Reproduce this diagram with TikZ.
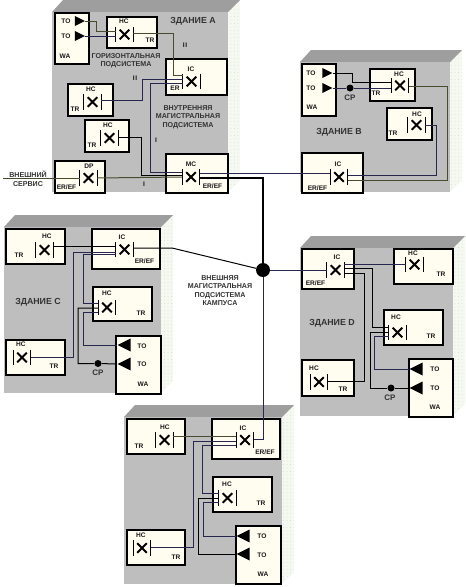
\documentclass[tikz,border=0pt]{standalone}
\usepackage{fontspec}
\setmainfont{Liberation Sans}
\usetikzlibrary{shapes.geometric,patterns.meta}
\definecolor{wallgray}{HTML}{BEBEBE}
\definecolor{roofgray}{HTML}{9E9E9E}
\definecolor{sidegreen}{HTML}{F6F9F2}
\definecolor{sidedots}{HTML}{BFD8B8}
\definecolor{boxcream}{HTML}{FFFCF0}
\definecolor{wirenavy}{HTML}{26264E}
\definecolor{wireolive}{HTML}{4A4A2E}
\tikzset{
  wall/.style={fill=wallgray},
  roof/.style={fill=roofgray},
  side/.style={fill=sidegreen,postaction={pattern={Dots[distance=3.5pt,radius=0.45pt]},pattern color=sidedots}},
  box/.style={draw=black,line width=1.9pt,fill=boxcream,inner sep=0,anchor=north west},
  lbl/.style={font=\bfseries\fontsize{6.6}{8}\selectfont,inner sep=0,text=black!90},
  title/.style={font=\bfseries\fontsize{8.8}{10}\selectfont,inner sep=0,text=black!80},
  cplbl/.style={font=\bfseries\fontsize{8}{9}\selectfont,inner sep=0,text=black!80},
  note/.style={font=\bfseries\fontsize{7.1}{8.4}\selectfont,inner sep=0,align=center,text=black!80},
  xbox/.style={minimum width=17pt,minimum height=15pt,inner sep=0},
  wire/.style={line width=1pt,black},
  wireN/.style={line width=1pt,wirenavy},
  wireO/.style={line width=1pt,wireolive},
  trunk/.style={line width=2.8pt,black},
  toR/.style={isosceles triangle,isosceles triangle stretches,shape border rotate=0,fill=black,inner sep=0,minimum height=10pt,minimum width=10pt},
  toL/.style={isosceles triangle,isosceles triangle stretches,shape border rotate=180,fill=black,inner sep=0,minimum height=13pt,minimum width=13pt},
  spot/.style={circle,fill=black,inner sep=0,minimum size=7pt},
}
% cross connect symbol
\newcommand{\xconn}[2]{%
  \node[xbox] (#1) at (#2) {};
  \draw[line width=1.3pt] (#1.north west) -- (#1.south west) (#1.north east) -- (#1.south east);
  \draw[line width=1.9pt] ([shift={(-4.8pt,-4.8pt)}]#1.center) -- ([shift={(4.8pt,4.8pt)}]#1.center)
    ([shift={(-4.8pt,4.8pt)}]#1.center) -- ([shift={(4.8pt,-4.8pt)}]#1.center);
}
% building block: front, roof and side
\newcommand{\building}[4]{%
  \fill[side] (#3,#2) -- (#3+12,#2-12) -- (#3+12,#4-12) -- (#3,#4) -- cycle;
  \fill[roof] (#1,#2) -- (#1+11,#2-12) -- (#3+12,#2-12) -- (#3,#2) -- cycle;
  \fill[wall] (#1,#2) rectangle (#3,#4);
}
\begin{document}
\begin{tikzpicture}[x=1pt,y=-1pt]
\useasboundingbox (0,0) rectangle (466,587);

% Building A
\building{52}{12}{228}{192}
\node[box,minimum width=34pt,minimum height=51pt] (waA) at (54,12) {};
\node[box,minimum width=50pt,minimum height=31pt] (boxA1) at (106,16) {};
\node[box,minimum width=61pt,minimum height=36pt] (boxA2) at (165,58) {};
\node[box,minimum width=45pt,minimum height=32pt] (boxA3) at (67,83) {};
\node[box,minimum width=44pt,minimum height=32pt] (boxA4) at (84,119) {};
\node[box,minimum width=50pt,minimum height=32pt] (boxA5) at (54,160) {};
\node[box,minimum width=62pt,minimum height=39pt] (boxA6) at (165,153) {};
\xconn{hcA1}{124.5,34.5}
\xconn{icA}{191.5,81.5}
\xconn{hcA2}{92.5,102}
\xconn{hcA3}{109.5,138}
\xconn{dpA}{88.5,178}
\xconn{mcA}{191,177}
\node[toR] (toA1) at (78,21) {};
\node[toR] (toA2) at (78,36) {};
\node[lbl] (tA1) at (66,21) {TO};
\node[lbl] (tA2) at (66,36.5) {TO};
\node[lbl] (tA3) at (65,56) {WA};
\node[lbl] (tA4) at (124,21) {HC};
\node[lbl] (tA5) at (150,40) {TR};
\node[lbl] (tA6) at (191,69) {IC};
\node[lbl] (tA7) at (175,88) {ER};
\node[lbl] (tA8) at (91,89) {HC};
\node[lbl] (tA9) at (75,109) {TR};
\node[lbl] (tA10) at (108,125) {HC};
\node[lbl] (tA11) at (92,145) {TR};
\node[lbl] (tA12) at (89,166) {DP};
\node[lbl] (tA13) at (66.5,187) {ER/EF};
\node[lbl] (tA14) at (191,164) {MC};
\node[lbl] (tA15) at (212.5,186) {ER/EF};
\node[lbl] (tA16) at (185,45) {I\kern0.8pt I};
\node[lbl] (tA17) at (135,78) {I\kern0.8pt I};
\node[lbl] (tA18) at (156,140) {I};
\node[lbl] (tA19) at (144,184) {I};
\node[title] (nameA) at (193,21) {ЗДАНИЕ А};
\node[note] (horizA) at (126,60.5) {ГОРИЗОНТАЛЬНАЯ\\ПОДСИСТЕМА};
\node[note] (backA) at (188,117) {ВНУТРЕННЯЯ\\МАГИСТРАЛЬНАЯ\\ПОДСИСТЕМА};
\node[note] (extA) at (28,179) {ВНЕШНИЙ\\СЕРВИС};
\coordinate (extIn) at (3,178);
\draw[wireO] (toA1.apex) -| (96,31) -- (hcA1.west |- 0,31);
\draw[wireN] (toA2.apex) -- (hcA1.west |- 0,36);
\draw[wireO] (hcA1.east |- 0,33) -| (173,75) -- (icA.west |- 0,75);
\draw[wireN] (hcA2.east |- 0,100) -| (142,79) -- (icA.west |- 0,79);
\draw[wireN] (icA.west |- 0,83) -| (150,172) -- (mcA.west |- 0,172);
\draw[wire] (hcA3.east |- 0,137) -| (141,175) -- (mcA.west |- 0,175);
\draw[wireO] (extIn) -- (dpA.west);
\draw[wireO] (dpA.east) -- (mcA.west);

% Building B
\building{300}{62}{450}{192}
\node[box,minimum width=34pt,minimum height=52pt] (waB) at (301,63) {};
\node[box,minimum width=45pt,minimum height=32pt] (boxB1) at (369,68) {};
\node[box,minimum width=45pt,minimum height=32pt] (boxB2) at (386,107) {};
\node[box,minimum width=61pt,minimum height=40pt] (boxB3) at (301,152) {};
\xconn{hcB1}{400,85.5}
\xconn{hcB2}{416.5,125}
\xconn{icB}{339,177}
\node[toR] (toB1) at (325.5,73) {};
\node[toR] (toB2) at (325.5,88) {};
\node[spot] (cpB) at (350,88) {};
\node[lbl] (tB1) at (311,73) {TO};
\node[lbl] (tB2) at (311,88) {TO};
\node[lbl] (tB3) at (312,107) {WA};
\node[lbl] (tB4) at (399,74) {HC};
\node[lbl] (tB5) at (376,93) {TR};
\node[lbl] (tB6) at (417,114) {HC};
\node[lbl] (tB7) at (393,133) {TR};
\node[lbl] (tB8) at (338,164) {IC};
\node[lbl] (tB9) at (317.5,188) {ER/EF};
\node[cplbl] (tB10) at (350,98) {CP};
\node[title] (nameB) at (339,132) {ЗДАНИЕ В};
\draw[wire] (toB1.apex) -| (352,82) -- (hcB1.west |- 0,82);
\draw[wireN] (toB2.apex) -- (cpB) -- (hcB1.west |- 0,88);
\draw[wireO] (hcB1.east |- 0,86) -| (447,180) -- (icB.east |- 0,180);
\draw[wireN] (hcB2.east |- 0,125) -| (436,175) -- (icB.east |- 0,175);

% Building C
\building{4}{227}{161}{393}
\node[box,minimum width=59pt,minimum height=35pt] (boxC1) at (5,228) {};
\node[box,minimum width=68pt,minimum height=40pt] (boxC2) at (91,228) {};
\node[box,minimum width=59pt,minimum height=34pt] (boxC3) at (92,286) {};
\node[box,minimum width=59pt,minimum height=35pt] (boxC4) at (5,339) {};
\node[box,minimum width=45pt,minimum height=58pt] (waC) at (115,335) {};
\xconn{hcC1}{44.5,250}
\xconn{icC}{124.5,249.5}
\xconn{hcC2}{107,307.5}
\xconn{hcC3}{22,357.5}
\node[toL] (toC1) at (126.5,345) {};
\node[toL] (toC2) at (126.5,364) {};
\node[spot] (cpC) at (98,363.5) {};
\node[lbl] (tC1) at (47,236) {HC};
\node[lbl] (tC2) at (19,255) {TR};
\node[lbl] (tC3) at (122,237) {IC};
\node[lbl] (tC4) at (144.5,261) {ER/EF};
\node[lbl] (tC5) at (107,293) {HC};
\node[lbl] (tC6) at (141,313) {TR};
\node[lbl] (tC7) at (21,344.5) {HC};
\node[lbl] (tC8) at (54,366.5) {TR};
\node[lbl] (tC9) at (142,346) {TO};
\node[lbl] (tC10) at (142,364.5) {TO};
\node[lbl] (tC11) at (143,384) {WA};
\node[cplbl] (tC12) at (98,373) {CP};
\node[title] (nameC) at (38,302) {ЗДАНИЕ С};
\draw[wire] (hcC1.east |- 0,246) -- (icC.west |- 0,246);
\draw[wireN] (hcC3.east |- 0,357) -| (73,252) -- (icC.west |- 0,252);
\draw[wireN] (icC.west |- 0,254.5) -| (83,303) -- (hcC2.west |- 0,303);
\draw[wire] (hcC2.west |- 0,308) -| (78,363.5) -- (cpC) -- (toC2.apex);
\draw[wireN] (hcC2.west |- 0,312) -| (83,345) -- (toC1.apex);

% Building D
\building{300}{248}{453}{416}
\node[box,minimum width=52pt,minimum height=40pt] (boxD1) at (301,248) {};
\node[box,minimum width=59pt,minimum height=35pt] (boxD2) at (393,248) {};
\node[box,minimum width=59pt,minimum height=35pt] (boxD3) at (383,309) {};
\node[box,minimum width=52pt,minimum height=36pt] (boxD4) at (301,359) {};
\node[box,minimum width=44pt,minimum height=58pt] (waD) at (408,358) {};
\xconn{icD}{335.5,270}
\xconn{hcD1}{414.5,264.5}
\xconn{hcD2}{397.5,332.5}
\xconn{hcD3}{319,382}
\node[toL] (toD1) at (418.5,369) {};
\node[toL] (toD2) at (418.5,388) {};
\node[spot] (cpD) at (391,388) {};
\node[lbl] (tD1) at (337,257) {IC};
\node[lbl] (tD2) at (315.5,283) {ER/EF};
\node[lbl] (tD3) at (413,253) {HC};
\node[lbl] (tD4) at (441,274) {TR};
\node[lbl] (tD5) at (396,317) {HC};
\node[lbl] (tD6) at (431,336) {TR};
\node[lbl] (tD7) at (314,368) {HC};
\node[lbl] (tD8) at (343,389) {TR};
\node[lbl] (tD9) at (435,369) {TO};
\node[lbl] (tD10) at (435,388) {TO};
\node[lbl] (tD11) at (435,407) {WA};
\node[cplbl] (tD12) at (390,398) {CP};
\node[title] (nameD) at (332,323) {ЗДАНИЕ D};
\draw[wireN] (icD.east |- 0,264) -- (hcD1.west |- 0,264);
\draw[wire] (icD.east |- 0,268) -| (372,327) -- (hcD2.west |- 0,327);
\draw[wire] (icD.east |- 0,273) -| (364,381) -- (hcD3.east |- 0,381);
\draw[wire] (hcD2.west |- 0,332) -| (370,388) -- (cpD) -- (toD2.apex);
\draw[wireN] (hcD2.west |- 0,336) -| (374,369) -- (toD1.apex);

% Bottom building
\building{124}{417}{282}{584}
\node[box,minimum width=58pt,minimum height=35pt] (boxE1) at (126,418) {};
\node[box,minimum width=68pt,minimum height=40pt] (boxE2) at (211,418) {};
\node[box,minimum width=59pt,minimum height=35pt] (boxE3) at (212,476) {};
\node[box,minimum width=58pt,minimum height=35pt] (boxE4) at (126,529) {};
\node[box,minimum width=45pt,minimum height=58pt] (waE) at (235,525) {};
\xconn{hcE1}{164.5,440}
\xconn{icE}{245,440}
\xconn{hcE2}{227.5,498}
\xconn{hcE3}{142,548}
\node[toL] (toE1) at (245.5,536) {};
\node[toL] (toE2) at (245.5,554) {};
\node[lbl] (tE1) at (165,427) {HC};
\node[lbl] (tE2) at (139,446) {TR};
\node[lbl] (tE3) at (243,428) {IC};
\node[lbl] (tE4) at (265,452) {ER/EF};
\node[lbl] (tE5) at (227,484) {HC};
\node[lbl] (tE6) at (261,503) {TR};
\node[lbl] (tE7) at (141,535) {HC};
\node[lbl] (tE8) at (176,557) {TR};
\node[lbl] (tE9) at (262,536) {TO};
\node[lbl] (tE10) at (262,555) {TO};
\node[lbl] (tE11) at (263,574) {WA};
\draw[wireO] (hcE1.east |- 0,436) -- (icE.west |- 0,436);
\draw[wireN] (hcE3.east |- 0,547) -| (193,441) -- (icE.west |- 0,441);
\draw[wireN] (icE.west |- 0,445) -| (202,493) -- (hcE2.west |- 0,493);
\draw[wire] (hcE2.west |- 0,498) -| (198,554) -- (toE2.apex);
\draw[wireN] (hcE2.west |- 0,502) -| (203,536) -- (toE1.apex);

% Campus backbone
\node[spot,minimum size=14pt] (hub) at (263,270) {};
\node[note] (campus) at (220,290.5) {ВНЕШНЯЯ\\МАГИСТРАЛЬНАЯ\\ПОДСИСТЕМА\\КАМПУСА};
\draw[trunk] (mcA.east |- 0,178) -| (hub);
\draw[wireN] (mcA.east |- 0,173) -- (icB.west |- 0,173);
\draw[wire] (icC.east |- 0,248) -- (172,248) -- (hub);
\draw[wireN] (hub) -- (icD.west);
\draw[wireN] (hub) |- (icE.east |- 0,439);
\end{tikzpicture}
\end{document}
